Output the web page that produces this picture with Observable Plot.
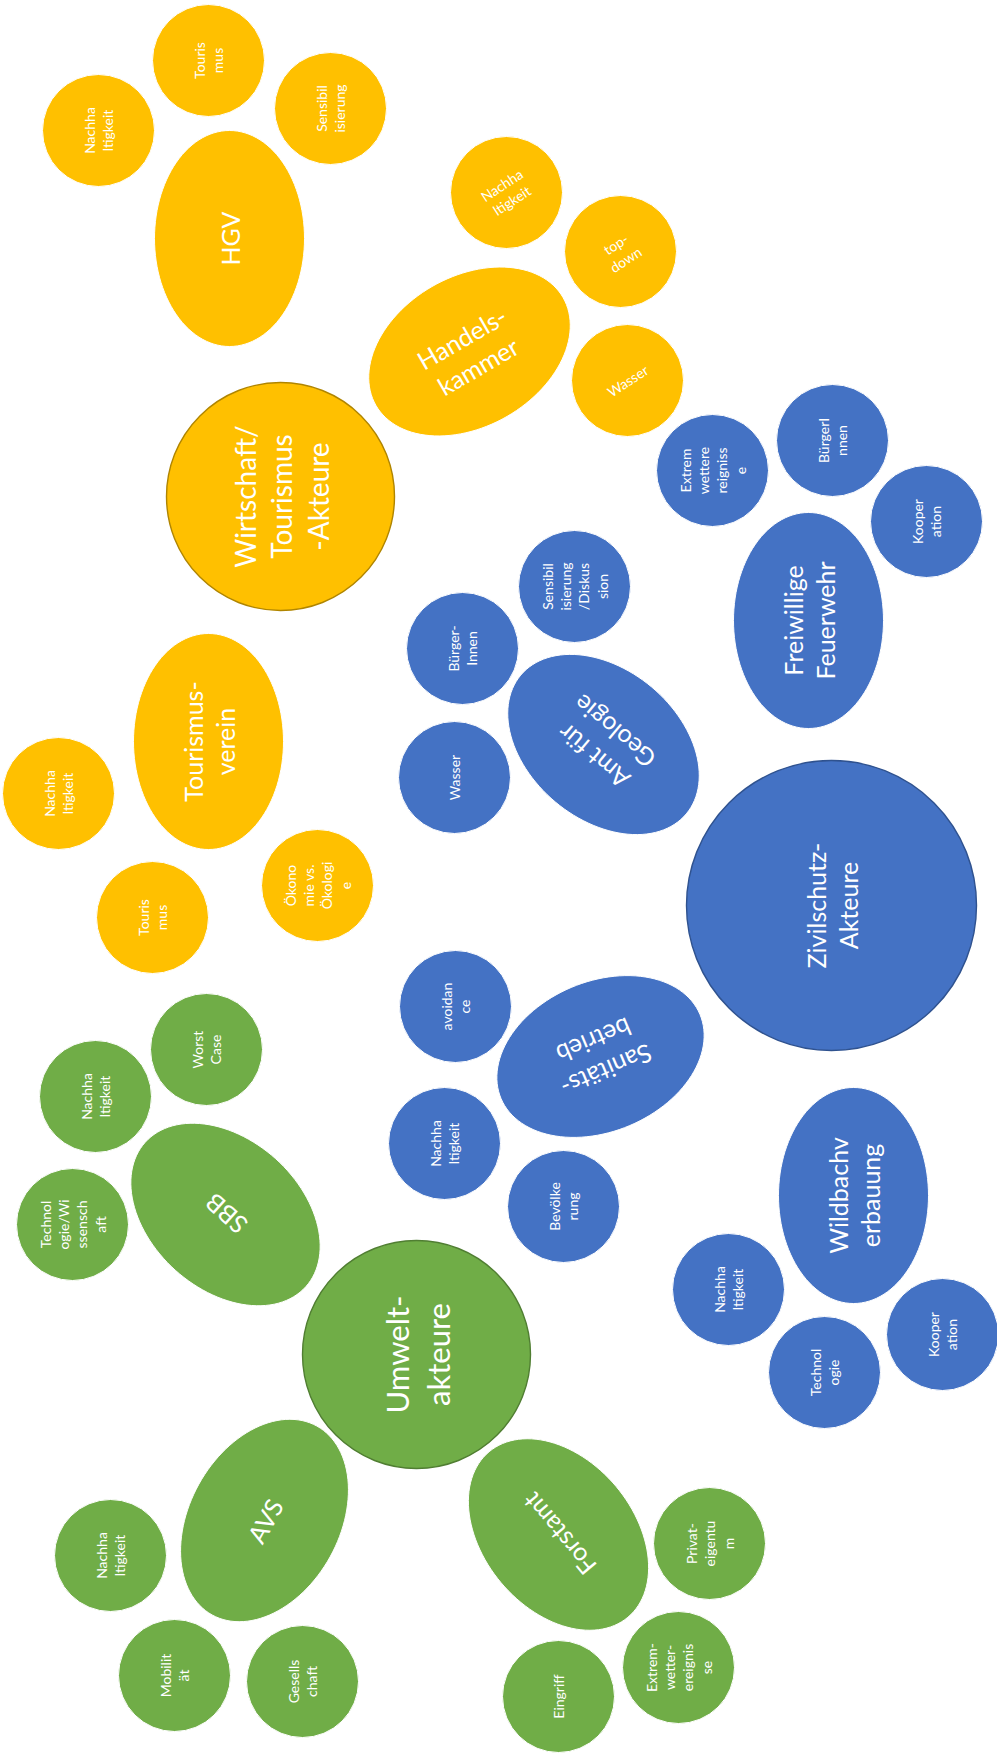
<!DOCTYPE html>
<html><head><meta charset="utf-8">
<script src="https://cdn.jsdelivr.net/npm/d3@7"></script>
<script src="https://cdn.jsdelivr.net/npm/@observablehq/plot@0.6"></script>
<style>html,body{margin:0;padding:0;background:#fff;} #chart svg{display:block;}</style>
</head><body><div id="chart"></div>
<script>
// ---- data (chart coordinate system = page pixels) ----
const groups = ["Wirtschaft", "Zivilschutz", "Umwelt"];
const groupFill = ["#FFC000", "#4472C4", "#70AD47"];
const groupEdge = ["#B08500", "#2F528F", "#507E32"];

// main actor hubs
const hubLabels = ["Wirtschaft/\nTourismus\n-Akteure", "Zivilschutz-\nAkteure", "Umwelt-\nakteure"];
const hubGroup  = ["Wirtschaft", "Zivilschutz", "Umwelt"];
const hubX      = [280, 831, 416];
const hubY      = [496, 905, 1354];
const hubSize   = [114, 145, 114];

// organisations (ellipses)
const orgLabels = ["HGV", "Handels-\nkammer", "Tourismus-\nverein", "Amt für\nGeologie", "Freiwillige\nFeuerwehr",
                   "Sanitäts-\nbetrieb", "Wildbachv\nerbauung", "SBB", "AVS", "Forstamt"];
const orgGroup  = ["Wirtschaft", "Wirtschaft", "Wirtschaft", "Zivilschutz", "Zivilschutz",
                   "Zivilschutz", "Zivilschutz", "Umwelt", "Umwelt", "Umwelt"];
const orgX      = [229, 469, 208, 603, 808, 600, 853, 225, 264, 558];
const orgY      = [238, 351, 741, 744, 620, 1056, 1195, 1214, 1520, 1534];
const orgAngle  = [-90, -30, -90, -140, -90, 157, -90, -138, -61, -130];

// topics (small circles)
const topicLabels = [
  "Touris\nmus", "Sensibil\nisierung", "Nachha\nltigkeit", "Nachha\nltigkeit", "top-\ndown", "Wasser",
  "Nachha\nltigkeit", "Touris\nmus", "Ökono\nmie vs.\nÖkologi\ne",
  "Extrem\nwettere\nreigniss\ne", "BürgerI\nnnen", "Kooper\nation", "Sensibil\nisierung\n/Diskus\nsion",
  "Bürger-\nInnen", "Wasser", "avoidan\nce", "Nachha\nltigkeit", "Bevölke\nrung",
  "Nachha\nltigkeit", "Technol\nogie", "Kooper\nation",
  "Worst\nCase", "Nachha\nltigkeit", "Technol\nogie/Wi\nssensch\naft", "Nachha\nltigkeit", "Mobilit\nät",
  "Gesells\nchaft", "Privat-\neigentu\nm", "Extrem-\nwetter-\nereignis\nse", "Eingriff"
];
const topicGroup = [
  "Wirtschaft", "Wirtschaft", "Wirtschaft", "Wirtschaft", "Wirtschaft", "Wirtschaft",
  "Wirtschaft", "Wirtschaft", "Wirtschaft",
  "Zivilschutz", "Zivilschutz", "Zivilschutz", "Zivilschutz",
  "Zivilschutz", "Zivilschutz", "Zivilschutz", "Zivilschutz", "Zivilschutz",
  "Zivilschutz", "Zivilschutz", "Zivilschutz",
  "Umwelt", "Umwelt", "Umwelt", "Umwelt", "Umwelt",
  "Umwelt", "Umwelt", "Umwelt", "Umwelt"
];
const topicX = [208, 330, 98, 506, 620, 627, 58, 152, 317,
                712, 832, 926, 574, 462, 454, 455, 444, 563, 728, 824, 942,
                206, 95, 72, 110, 174, 302, 709, 678, 558];
const topicY = [60, 108, 130, 192, 251, 380, 793, 917, 885,
                470, 440, 521, 586, 648, 777, 1006, 1143, 1206, 1289, 1372, 1334,
                1049, 1096, 1224, 1555, 1675, 1681, 1543, 1667, 1696];
const topicAngle = [-90, -90, -90, -33, -33, -33, -90, -90, -90,
                    -90, -90, -90, -90, -90, -90, -90, -90, -90, -90, -90, -90,
                    -90, -90, -90, -90, -90, -90, -90, -90, -90];

// ---- tables built from the arrays ----
const hubs = hubLabels.map((label, i) => ({label, group: hubGroup[i], x: hubX[i], y: hubY[i], size: hubSize[i]}));
const orgs = orgLabels.map((label, i) => ({label, group: orgGroup[i], x: orgX[i], y: orgY[i], angle: orgAngle[i]}));
const topics = topicLabels.map((label, i) => ({label, group: topicGroup[i], x: topicX[i], y: topicY[i], angle: topicAngle[i]}));

const W = 997, H = 1753;
const FONT = "Lato, 'Open Sans', sans-serif";
const colorScale = {domain: groups, range: groupFill};

// rotated ellipse symbol (semi-major axis along the text direction)
function ellipseSymbol(deg) {
  const t = deg * Math.PI / 180, c = Math.cos(t), s = Math.sin(t);
  return {
    draw(ctx, size) {
      const a = Math.sqrt(size / Math.PI), b = a * 75 / 108, n = 120;
      for (let i = 0; i <= n; ++i) {
        const u = 2 * Math.PI * i / n;
        const px = a * Math.cos(u) * c - b * Math.sin(u) * s;
        const py = a * Math.cos(u) * s + b * Math.sin(u) * c;
        if (i === 0) ctx.moveTo(px, py); else ctx.lineTo(px, py);
      }
      ctx.closePath();
    }
  };
}

const hubFont = {"Wirtschaft": 28, "Zivilschutz": 25, "Umwelt": 31};

const marks = [
  // topic circles
  Plot.dot(topics, {x: "x", y: "y", r: 56, fill: "group", stroke: "white", strokeWidth: 1}),
  // organisation ellipses
  ...orgs.map(o => Plot.dot([o], {x: "x", y: "y", r: 108, symbol: ellipseSymbol(o.angle), fill: "group", stroke: "white", strokeWidth: 1})),
  // hub circles
  ...hubs.map((h, i) => Plot.dot([h], {x: "x", y: "y", r: "size", fill: "group", stroke: groupEdge[i], strokeWidth: 1.4})),
  // labels
  Plot.text(topics, {x: "x", y: "y", text: "label", rotate: "angle", fill: "white", fontSize: 14, lineHeight: 1.3, fontFamily: FONT}),
  Plot.text(orgs, {x: "x", y: "y", text: "label", rotate: "angle", fill: "white", fontSize: 25, lineHeight: 1.3, fontFamily: FONT}),
  ...hubs.map(h => Plot.text([h], {x: "x", y: "y", text: "label", rotate: -90, fill: "white", fontSize: hubFont[h.group], lineHeight: 1.3, fontFamily: FONT}))
];

const chart = Plot.plot({
  width: W, height: H,
  margin: 0,
  x: {domain: [0, W], range: [0, W], axis: null},
  y: {domain: [0, H], range: [0, H], axis: null},
  r: {type: "linear", domain: [0, 145], range: [0, 145]},
  color: colorScale,
  style: {background: "white", fontFamily: FONT, overflow: "visible"},
  marks
});
document.getElementById("chart").append(chart);
</script>
</body></html>
